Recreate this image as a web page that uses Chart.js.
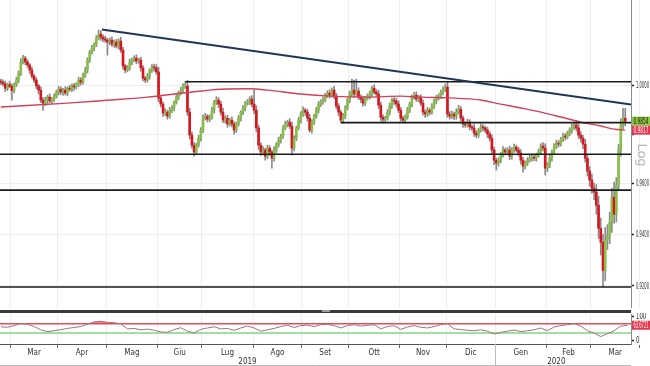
<!DOCTYPE html>
<html>
<head>
<meta charset="utf-8">
<script src="https://cdn.jsdelivr.net/npm/chart.js@4.4.1/dist/chart.umd.min.js"></script>
<style>
  html, body { margin: 0; padding: 0; background: #fff; }
  #wrap { position: relative; width: 650px; height: 366px; overflow: hidden; background: #fff; }
  #priceChart { position: absolute; left: 0; top: 0; }
  #rsiChart { position: absolute; left: 0; top: 313px; }
  #splitter { position: absolute; left: 0; top: 310px; width: 631px; height: 3px; background: #3a3a3a; }
  #grip { position: absolute; left: 322px; top: 310px; width: 8px; height: 2px; background: #9a9a9a; }
</style>
</head>
<body>
<div id="wrap">
  <canvas id="priceChart" width="650" height="308"></canvas>
  <div id="splitter"></div><div id="grip"></div>
  <canvas id="rsiChart" width="650" height="53"></canvas>
</div>
<script>
const FONT = "'Liberation Sans Narrow', 'DejaVu Sans Condensed', sans-serif";

const COLORS = {
  up: "#88bf46",
  down: "#d8161d",
  wick: "#8a8a8a",
  ma: "#d3405a",
  trend: "#1f3752",
  level: "#1a1a1a",
  grid: "#eeeeee",
  axis: "#8a8a8a",
  text: "#333333",
  tagGreen: "#8dc63f",
  tagRed: "#e5364f",
  rsi: "#a07479",
  rsiHigh: "#e6505f",
  rsiLow: "#84d384",
};

// daily USD/CHF candles, 22 Feb 2019 .. 23 Mar 2020 (index = trading day)
const firstOpen = 1.0020;
const closes = [
  1.0015, 1.0008, 0.9990, 1.0005, 0.9998, 0.9980, 1.0005, 1.0024, 1.0053, 1.0100,
  1.0116, 1.0100, 1.0087, 1.0066, 1.0040, 1.0024, 1.0000, 0.9982, 0.9941, 0.9928,
  0.9941, 0.9953, 0.9937, 0.9945, 0.9957, 0.9974, 0.9986, 0.9974, 0.9982, 0.9970,
  0.9990, 0.9986, 1.0000, 0.9995, 1.0007, 1.0024, 1.0015, 1.0045, 1.0066, 1.0108,
  1.0141, 1.0158, 1.0175, 1.0201, 1.0218, 1.0205, 1.0197, 1.0192, 1.0184, 1.0192,
  1.0175, 1.0184, 1.0167, 1.0188, 1.0150, 1.0083, 1.0066, 1.0075, 1.0100, 1.0108,
  1.0116, 1.0104, 1.0108, 1.0075, 1.0032, 1.0024, 1.0040, 1.0066, 1.0079, 1.0075,
  1.0058, 0.9949, 0.9924, 0.9887, 0.9891, 0.9874, 0.9899, 0.9908, 0.9932, 0.9953,
  0.9970, 0.9982, 0.9999, 0.9999, 0.9891, 0.9797, 0.9756, 0.9728, 0.9756, 0.9784,
  0.9817, 0.9866, 0.9874, 0.9862, 0.9870, 0.9899, 0.9932, 0.9941, 0.9924, 0.9891,
  0.9858, 0.9866, 0.9842, 0.9858, 0.9842, 0.9817, 0.9842, 0.9866, 0.9891, 0.9908,
  0.9928, 0.9932, 0.9945, 0.9924, 0.9899, 0.9826, 0.9756, 0.9728, 0.9736, 0.9711,
  0.9744, 0.9728, 0.9703, 0.9736, 0.9756, 0.9776, 0.9793, 0.9826, 0.9842, 0.9850,
  0.9834, 0.9744, 0.9784, 0.9826, 0.9858, 0.9883, 0.9899, 0.9891, 0.9866, 0.9817,
  0.9850, 0.9874, 0.9899, 0.9924, 0.9937, 0.9941, 0.9961, 0.9970, 0.9961, 0.9982,
  0.9957, 0.9916, 0.9891, 0.9858, 0.9874, 0.9908, 0.9941, 0.9966, 0.9982, 0.9966,
  0.9978, 0.9953, 0.9945, 0.9928, 0.9949, 0.9957, 0.9966, 0.9990, 0.9974, 0.9966,
  0.9920, 0.9870, 0.9862, 0.9866, 0.9891, 0.9916, 0.9941, 0.9937, 0.9924, 0.9899,
  0.9866, 0.9858, 0.9870, 0.9899, 0.9924, 0.9953, 0.9961, 0.9945, 0.9953, 0.9928,
  0.9891, 0.9883, 0.9899, 0.9891, 0.9916, 0.9937, 0.9949, 0.9957, 0.9974, 0.9986,
  0.9995, 0.9883, 0.9874, 0.9883, 0.9874, 0.9891, 0.9903, 0.9866, 0.9842, 0.9838,
  0.9850, 0.9830, 0.9826, 0.9805, 0.9797, 0.9817, 0.9830, 0.9826, 0.9817, 0.9801,
  0.9784, 0.9736, 0.9695, 0.9683, 0.9695, 0.9715, 0.9736, 0.9728, 0.9736, 0.9711,
  0.9736, 0.9748, 0.9736, 0.9724, 0.9695, 0.9671, 0.9683, 0.9695, 0.9703, 0.9707,
  0.9703, 0.9715, 0.9728, 0.9752, 0.9744, 0.9663, 0.9675, 0.9703, 0.9728, 0.9752,
  0.9764, 0.9760, 0.9780, 0.9793, 0.9789, 0.9805, 0.9817, 0.9830, 0.9838, 0.9826,
  0.9797, 0.9784, 0.9760, 0.9703, 0.9651, 0.9615, 0.9583, 0.9567, 0.9515, 0.9424,
  0.9369, 0.9260, 0.9377, 0.9393, 0.9448, 0.9547, 0.9479, 0.9595, 0.9736, 0.9838, 0.9866, 0.9854,
];
// wick length above / below the body, in pips
const wickHi = [
  8, 10, 12, 6, 14, 10, 8, 12, 10, 14,
  12, 8, 10, 6, 12, 8, 10, 6, 14, 10,
  12, 8, 14, 6, 10, 8, 12, 10, 8, 14,
  6, 12, 8, 10, 6, 12, 10, 8, 12, 10,
  8, 12, 6, 10, 17, 14, 10, 12, 8, 10,
  14, 8, 12, 10, 16, 12, 8, 10, 12, 8,
  10, 14, 8, 12, 10, 8, 12, 6, 10, 12,
  14, 20, 12, 10, 14, 8, 12, 10, 6, 10,
  8, 12, 10, 18, 24, 16, 12, 10, 8, 12,
  10, 14, 12, 8, 10, 12, 8, 14, 10, 12,
  16, 10, 12, 8, 14, 10, 8, 12, 6, 10,
  8, 12, 10, 14, 58, 18, 12, 10, 14, 8,
  12, 10, 8, 14, 10, 12, 8, 10, 12, 8,
  14, 16, 10, 8, 12, 10, 14, 8, 12, 16,
  10, 8, 12, 10, 6, 12, 8, 10, 14, 10,
  16, 12, 10, 8, 12, 10, 8, 12, 46, 42,
  50, 14, 10, 12, 8, 10, 12, 8, 14, 10,
  16, 12, 10, 8, 10, 12, 8, 10, 12, 14,
  12, 8, 10, 12, 8, 10, 12, 14, 8, 10,
  14, 10, 12, 8, 10, 8, 12, 10, 8, 10,
  12, 20, 10, 12, 8, 14, 16, 12, 10, 8,
  12, 10, 8, 14, 10, 8, 12, 10, 8, 12,
  10, 14, 12, 8, 10, 12, 14, 8, 10, 16,
  10, 12, 8, 10, 14, 12, 8, 10, 12, 8,
  10, 8, 12, 10, 14, 18, 10, 12, 8, 10,
  12, 10, 8, 12, 10, 8, 10, 12, 12, 16,
  18, 14, 12, 20, 16, 18, 24, 20, 30, 36,
  40, 30, 50, 45, 40, 36, 60, 30, 24, 26, 41, 41,
];
const wickLo = [
  10, 8, 14, 10, 6, 40, 10, 8, 12, 10,
  8, 12, 10, 14, 8, 10, 12, 16, 10, 30,
  10, 14, 8, 12, 10, 8, 12, 10, 14, 8,
  12, 8, 10, 14, 8, 10, 12, 8, 10, 12,
  10, 8, 12, 10, 8, 14, 12, 10, 55, 12,
  10, 14, 8, 12, 10, 14, 12, 8, 10, 12,
  8, 12, 10, 14, 12, 10, 8, 12, 10, 14,
  10, 16, 12, 14, 10, 12, 8, 10, 12, 8,
  10, 8, 12, 10, 14, 16, 12, 17, 10, 8,
  12, 10, 8, 12, 10, 8, 12, 10, 14, 12,
  10, 12, 14, 8, 12, 16, 10, 8, 12, 10,
  12, 8, 10, 12, 14, 16, 18, 14, 12, 16,
  10, 14, 40, 12, 10, 8, 12, 10, 8, 12,
  10, 29, 12, 10, 8, 12, 10, 14, 12, 8,
  12, 10, 8, 12, 10, 14, 8, 10, 12, 8,
  10, 12, 14, 10, 12, 10, 8, 12, 10, 14,
  12, 10, 14, 12, 10, 8, 12, 10, 8, 12,
  14, 16, 12, 10, 8, 12, 10, 14, 12, 10,
  12, 10, 14, 8, 10, 12, 8, 10, 12, 10,
  12, 14, 10, 12, 8, 10, 12, 8, 10, 12,
  10, 14, 12, 10, 14, 12, 8, 12, 14, 10,
  8, 12, 10, 14, 12, 10, 8, 12, 10, 14,
  12, 16, 18, 28, 12, 10, 8, 12, 10, 14,
  12, 10, 8, 12, 16, 24, 12, 10, 8, 12,
  10, 12, 8, 10, 12, 28, 14, 10, 12, 8,
  10, 12, 8, 10, 12, 8, 10, 12, 10, 12,
  14, 16, 18, 16, 20, 24, 20, 30, 36, 40,
  50, 65, 40, 36, 30, 40, 35, 30, 20, 25, 18, 20,
];

// moving average, read at a few days
const maDays = [0, 30, 49, 66, 82, 99, 112, 120, 135, 148, 165, 180, 189, 202, 216, 225, 234, 243, 252, 261, 270, 276, 281];
const maValues = [0.9912, 0.9928, 0.9941, 0.9953, 0.9970, 0.9986, 0.9988, 0.9982, 0.9966, 0.9957, 0.9953, 0.9957,
  0.9953, 0.9950, 0.9941, 0.9924, 0.9908, 0.9891, 0.9871, 0.9850, 0.9834, 0.9821, 0.9817];

// drawn trend line and horizontal levels
const trendDays = [45.5, 283.6];
const trendValues = [1.0237, 0.9922];
const levelValues = [1.0017, 0.9848, 0.9719, 0.9575, 0.9196];
const levelFromDay = [83, 153, -2, -2, -2];

// RSI, one reading every 3 days
const rsiStep = 3;
const rsiValues = [
  57, 55, 62, 71, 68, 58, 44, 36, 40, 45,
  50, 54, 58, 68, 78, 81, 76, 74, 70, 48,
  50, 44, 47, 42, 35, 33, 45, 53, 38, 30,
  46, 52, 57, 48, 50, 42, 52, 60, 52, 38,
  44, 50, 58, 64, 54, 62, 64, 58, 66, 68,
  62, 52, 62, 66, 60, 63, 66, 48, 58, 62,
  46, 56, 62, 55, 52, 58, 66, 71, 48, 45,
  42, 40, 44, 38, 26, 33, 38, 43, 36, 40,
  44, 52, 40, 56, 62, 66, 71, 60, 40, 30,
  15, 27, 40, 60, 63.6721,
];
const rsiBands = [70, 30];

// axes
const monthStarts = [5, 26, 48, 71, 91, 114, 136, 157, 180, 201, 223, 246, 266, 288];
const monthLabels = ["Mar", "Apr", "Mag", "Giu", "Lug", "Ago", "Set", "Ott", "Nov", "Dic", "Gen", "Feb", "Mar"];
const yearBreaks = [223];
const yearLabelDays = [111, 250];
const yearLabels = ["2019", "2020"];
const priceTicks = [0.92, 0.94, 0.96, 0.98, 1.00];
const priceTickLabels = ["0.9200", "0.9400", "0.9600", "", "1.0000"];
const rsiTicks = [0, 100];
const rsiTickLabels = ["0", "100"];

const X_MIN = -0.36, X_MAX = 283.6;
const Y_MIN = 0.9116, Y_MAX = 1.0364;
const RSI_MIN = -17, RSI_MAX = 112;

// candles as floating bars: body [open, close] over a thin wick [low, high]
const opens = closes.map((c, i) => (i === 0 ? firstOpen : closes[i - 1]));
const bodies = closes.map((c, i) => ({ x: i, y: [opens[i], c] }));
const wicks = closes.map((c, i) => ({
  x: i,
  y: [Math.min(opens[i], c) - wickLo[i] / 10000, Math.max(opens[i], c) + wickHi[i] / 10000],
}));
const bodyColors = closes.map((c, i) => (c >= opens[i] ? COLORS.up : COLORS.down));

const monthTicks = s => { s.ticks = monthStarts.map(m => ({ value: m - 0.5 })); };

// fixed axis sizes, no extra label padding around the plot
const fixSize = (w, h) => s => {
  if (w != null) s.width = w;
  if (h != null) s.height = h;
  s.paddingTop = s.paddingBottom = s.paddingLeft = s.paddingRight = 0;
};

// squeeze a short label into a narrow slot
const fitText = (ctx, text, x, y, maxW) => {
  const w = ctx.measureText(text).width;
  const k = Math.min(1, maxW / w);
  ctx.save();
  ctx.translate(x, y);
  ctx.scale(k, 1);
  ctx.fillText(text, 0, 0);
  ctx.restore();
};

const rightLabels = (ticks, labels) => ({
  id: "rightLabels",
  afterDraw(chart) {
    const { ctx, chartArea, scales } = chart;
    ctx.save();
    ctx.font = `8px ${FONT}`;
    ctx.fillStyle = COLORS.text;
    ctx.textBaseline = "middle";
    ticks.forEach((v, i) => {
      if (!labels[i]) return;
      const maxW = labels[i].length > 3 ? 13 : labels[i].length * 3.4;
      fitText(ctx, labels[i], chartArea.right + 5, scales.y.getPixelForValue(v) + 0.5, maxW);
    });
    ctx.restore();
  },
});

const drawTag = (chart, value, bg, fg) => {
  const { ctx, chartArea, scales } = chart;
  const left = chartArea.right + 1;
  const w = chart.width - left;
  const py = scales.y.getPixelForValue(value);
  ctx.save();
  ctx.fillStyle = bg;
  ctx.fillRect(left, py - 4.5, w, 9);
  ctx.fillStyle = fg;
  ctx.font = `8px ${FONT}`;
  ctx.textBaseline = "middle";
  fitText(ctx, value.toFixed(4), left + 1.5, py + 0.5, w - 3);
  ctx.restore();
};

const priceTags = {
  id: "priceTags",
  afterDraw(chart) {
    const { ctx, chartArea } = chart;
    drawTag(chart, closes[closes.length - 1], COLORS.tagGreen, "#1b1b1b");
    drawTag(chart, maValues[maValues.length - 1], COLORS.tagRed, "#ffffff");
    // scale mode caption
    ctx.save();
    ctx.translate(chartArea.right + 10, chartArea.top + 155);
    ctx.rotate(Math.PI / 2);
    ctx.font = "13px 'DejaVu Sans', sans-serif";
    ctx.fillStyle = "#b5b5b5";
    ctx.textAlign = "center";
    ctx.textBaseline = "middle";
    ctx.fillText("Log", 0, 0);
    ctx.restore();
  },
};

const rsiDecor = {
  id: "rsiDecor",
  afterDraw(chart) {
    const { ctx, chartArea, scales } = chart;
    drawTag(chart, rsiValues[rsiValues.length - 1], COLORS.tagRed, "#ffffff");
    // year separators below the axis
    ctx.save();
    ctx.strokeStyle = "#bdbdbd";
    ctx.lineWidth = 1;
    yearBreaks.forEach(d => {
      const px = Math.round(scales.x.getPixelForValue(d - 0.5)) + 0.5;
      ctx.beginPath();
      ctx.moveTo(px, chartArea.bottom);
      ctx.lineTo(px, chart.height);
      ctx.stroke();
    });
    ctx.beginPath();
    ctx.moveTo(0, chart.height - 0.5);
    ctx.lineTo(chartArea.right, chart.height - 0.5);
    ctx.stroke();
    ctx.restore();
  },
};

const lineSet = (data, color, width, order) => ({
  type: "line", data, borderColor: color, borderWidth: width,
  pointRadius: 0, fill: false, order,
});

new Chart(document.getElementById("priceChart"), {
  type: "bar",
  data: {
    datasets: [
      lineSet(trendDays.map((d, i) => ({ x: d, y: trendValues[i] })), COLORS.trend, 2, 0),
      ...levelValues.map((v, i) => lineSet([{ x: levelFromDay[i], y: v }, { x: X_MAX + 2, y: v }], COLORS.level, 1.6, 0)),
      { ...lineSet(maDays.map((d, i) => ({ x: d, y: maValues[i] })), COLORS.ma, 1.4, 1), cubicInterpolationMode: "monotone" },
      { type: "bar", data: bodies, backgroundColor: bodyColors, barThickness: 2, grouped: false, minBarLength: 1, order: 2 },
      { type: "bar", data: wicks, backgroundColor: COLORS.wick, barThickness: 1, grouped: false, order: 3 },
    ],
  },
  options: {
    responsive: false,
    animation: false,
    devicePixelRatio: 1,
    layout: { padding: 0 },
    plugins: { legend: { display: false }, tooltip: { enabled: false } },
    scales: {
      x: {
        type: "linear", min: X_MIN, max: X_MAX, offset: false,
        grid: { color: COLORS.grid, drawTicks: false, offset: false },
        border: { display: false },
        ticks: { display: false },
        afterBuildTicks: monthTicks,
        afterFit: fixSize(null, 0),
      },
      y: {
        type: "logarithmic", position: "right", min: Y_MIN, max: Y_MAX,
        grid: { color: COLORS.grid, tickLength: 3, tickColor: "#222", tickWidth: 1.5 },
        border: { color: COLORS.axis },
        ticks: { display: false },
        afterBuildTicks: s => { s.ticks = priceTicks.map(v => ({ value: v })); },
        afterFit: fixSize(19, null),
      },
    },
  },
  plugins: [rightLabels(priceTicks, priceTickLabels), priceTags],
});

new Chart(document.getElementById("rsiChart"), {
  type: "line",
  data: {
    datasets: [
      {
        data: rsiValues.map((v, k) => ({ x: k * rsiStep, y: v })),
        borderColor: COLORS.rsi, borderWidth: 1, pointRadius: 0, order: 0,
        fill: { target: { value: rsiBands[0] }, above: "rgba(214,40,60,0.55)", below: "rgba(0,0,0,0)" },
      },
      lineSet([{ x: X_MIN - 2, y: rsiBands[0] }, { x: X_MAX + 2, y: rsiBands[0] }], COLORS.rsiHigh, 1.5, 1),
      lineSet([{ x: X_MIN - 2, y: rsiBands[1] }, { x: X_MAX + 2, y: rsiBands[1] }], COLORS.rsiLow, 1.5, 1),
    ],
  },
  options: {
    responsive: false,
    animation: false,
    devicePixelRatio: 1,
    layout: { padding: { top: 1 } },
    plugins: { legend: { display: false }, tooltip: { enabled: false } },
    scales: {
      x: {
        type: "linear", min: X_MIN, max: X_MAX, offset: false, weight: 0,
        grid: { color: COLORS.grid, tickLength: 4, tickColor: "#666", offset: false },
        border: { color: "#555" },
        ticks: { display: false },
        afterBuildTicks: monthTicks,
        afterFit: fixSize(null, 4),
      },
      xl: {
        type: "linear", position: "bottom", min: X_MIN, max: X_MAX, offset: false, weight: 1,
        grid: { display: false, drawTicks: false },
        border: { display: false },
        ticks: {
          font: { family: FONT, size: 8 }, color: COLORS.text, padding: 0,
          autoSkip: false, maxRotation: 0, minRotation: 0,
          callback: (v, i) => monthLabels[i],
        },
        afterBuildTicks: s => {
          s.ticks = monthLabels.map((m, i) => ({ value: (monthStarts[i] + monthStarts[i + 1]) / 2 - 0.5 }));
        },
        afterFit: fixSize(null, 9),
      },
      xy: {
        type: "linear", position: "bottom", min: X_MIN, max: X_MAX, offset: false, weight: 2,
        grid: { display: false, drawTicks: false },
        border: { display: false },
        ticks: {
          font: { family: FONT, size: 8 }, color: COLORS.text, padding: 0,
          autoSkip: false, maxRotation: 0, minRotation: 0,
          callback: (v, i) => yearLabels[i],
        },
        afterBuildTicks: s => { s.ticks = yearLabelDays.map(d => ({ value: d })); },
        afterFit: fixSize(null, 9),
      },
      y: {
        position: "right", min: RSI_MIN, max: RSI_MAX,
        grid: { drawOnChartArea: false, tickLength: 3, tickColor: "#222", tickWidth: 1.5 },
        border: { color: COLORS.axis },
        ticks: { display: false },
        afterBuildTicks: s => { s.ticks = rsiTicks.map(v => ({ value: v })); },
        afterFit: fixSize(19, null),
      },
    },
  },
  plugins: [rightLabels(rsiTicks, rsiTickLabels), rsiDecor],
});
</script>
</body>
</html>
